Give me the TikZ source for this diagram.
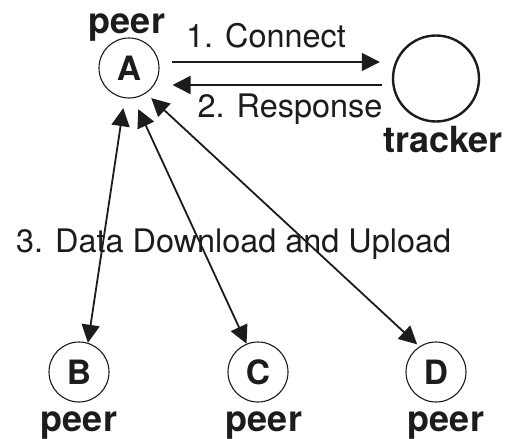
\documentclass[tikz,border=0pt]{standalone}
\usepackage{fontspec}
\setmainfont{TeX Gyre Heros}
\usetikzlibrary{arrows.meta}
\definecolor{ink}{RGB}{28,28,26}

\begin{document}
\begin{tikzpicture}[x=1pt,y=-1pt,
  peer/.style={circle, draw=ink, line width=1.1pt, minimum size=60pt, inner sep=0pt,
    text=ink, font=\fontsize{33.5}{36}\selectfont\bfseries},
  lbl/.style={font=\fontsize{36}{40}\selectfont\bfseries, text=ink, inner sep=0pt, anchor=base},
  txt/.style={font=\fontsize{32.4}{36}\selectfont, text=ink, inner sep=0pt, anchor=base},
  tip/.tip={Triangle[length=18pt,width=18pt]},
  arr/.style={draw=ink, line width=1.8pt, -tip},
  darr/.style={draw=ink, line width=1.8pt, tip-tip}
]
\useasboundingbox[fill=white] (0,0) rectangle (507,439);

% nodes
\node[peer] (A) at (129,68) {A};
\node[circle, draw=ink, line width=2.4pt, minimum size=86pt, inner sep=0pt] (T) at (436,78.5) {};
\node[peer] (B) at (79,372) {B};
\node[peer] (C) at (258,372) {C};
\node[peer] (D) at (436,372) {D};

% labels
\node[lbl] (pA) at (127,33) {peer};
\node[lbl] (tl) at (443,152) {tracker};
\node[lbl] (pB) at (79,431) {peer};
\node[lbl] (pC) at (264,431) {peer};
\node[lbl] (pD) at (446,431) {peer};
\node[txt] (l1) at (266,48) {1. Connect};
\node[txt] (l2) at (290,117) {2. Response};
\node[txt, anchor=base west] (l3) at (16,252) {3. Data Download and Upload};

% peer <-> tracker
\draw[arr, shorten <=12pt, shorten >=12pt] ([yshift=6pt]A.east) -- ([yshift=16.5pt]T.west);
\draw[arr, shorten <=10pt, shorten >=13pt] ([yshift=-6.5pt]T.west) -- ([yshift=-17pt]A.east);

% peer <-> peer
\draw[darr, shorten <=10pt] (A.-98) -- (B.73);
\draw[darr, shorten <=12pt] (A.-82) -- (C.112);
\draw[darr, shorten <=7pt, shorten >=3pt] (A.-56) -- (D.123);
\end{tikzpicture}
\end{document}
